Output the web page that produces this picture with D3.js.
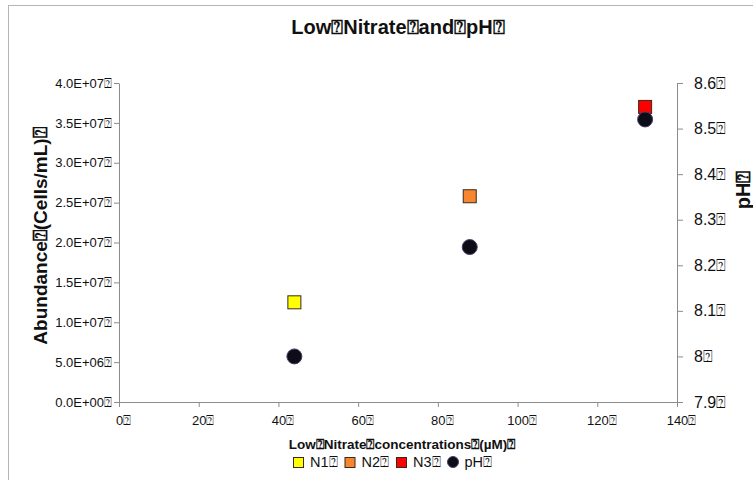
<!DOCTYPE html>
<html>
<head>
<meta charset="utf-8">
<script src="https://cdn.jsdelivr.net/npm/d3@7"></script>
<style>
  body { margin: 0; background: #fff; }
  text { font-family: "Liberation Sans", Arial, sans-serif; fill: #111; }
  .axis path, .axis line { stroke: #8c8c8c; }
  .axis text { font-size: 13px; }
  .axis.right text { font-size: 16px; }
</style>
</head>
<body>
<div class="canvas"></div>
<script>
// missing-glyph mark that shows up in the original export
const Q = "\u2370";

const nitrate = [44, 88, 132];
const abundance = [1.25e7, 2.58e7, 3.7e7];
const seriesNames = ["N1", "N2", "N3"];
const seriesColors = ["#ffff00", "#f7862e", "#ff0000"];
const ph = [8.0, 8.24, 8.52];

const xTicks = [0, 20, 40, 60, 80, 100, 120, 140];
const yTicks = [0, 5e6, 1e7, 1.5e7, 2e7, 2.5e7, 3e7, 3.5e7, 4e7];
const phTicks = [7.9, 8.0, 8.1, 8.2, 8.3, 8.4, 8.5, 8.6];

const W = 753, H = 480;
const margin = { top: 83, right: 76, bottom: 78, left: 119 };

const svg = d3.select(".canvas").append("svg")
  .attr("width", W).attr("height", H);

svg.append("rect")
  .attr("x", 8.5).attr("y", 5.5)
  .attr("width", W).attr("height", H)
  .attr("fill", "#fff").attr("stroke", "#b5b5b5");

const x = d3.scaleLinear().domain([0, 140]).range([margin.left, W - margin.right]);
const y = d3.scaleLinear().domain([0, 4e7]).range([H - margin.bottom, margin.top]);
const y2 = d3.scaleLinear().domain([7.9, 8.6]).range([H - margin.bottom, margin.top]);

const sci = (d) => {
  const [m, e] = d.toExponential(1).split("e");
  const ex = Math.abs(+e);
  return m + "E" + (+e < 0 ? "-" : "+") + (ex < 10 ? "0" : "") + ex + Q;
};

svg.append("g").attr("class", "axis")
  .attr("transform", `translate(${margin.left},0)`)
  .call(d3.axisLeft(y).tickValues(yTicks).tickFormat(sci).tickSize(5).tickSizeOuter(0).tickPadding(2));

svg.append("g").attr("class", "axis right")
  .attr("transform", `translate(${W - margin.right},0)`)
  .call(d3.axisRight(y2).tickValues(phTicks).tickFormat((d) => d3.format("")(+d.toFixed(1)) + Q).tickSize(6).tickSizeOuter(0).tickPadding(11));

svg.append("g").attr("class", "axis bottom")
  .attr("transform", `translate(0,${H - margin.bottom})`)
  .call(d3.axisBottom(x).tickValues(xTicks).tickFormat((d) => d + Q).tickSize(5).tickSizeOuter(0).tickPadding(9));

svg.selectAll(".axis.bottom .tick text").attr("dx", 4);

// titles
svg.append("text")
  .attr("x", 398).attr("y", 34)
  .attr("text-anchor", "middle")
  .style("font-size", "20px").style("font-weight", "bold")
  .text(`Low${Q}Nitrate${Q}and${Q}pH${Q}`);

svg.append("text")
  .attr("transform", "translate(47,236) rotate(-90)")
  .attr("text-anchor", "middle")
  .style("font-size", "19px").style("font-weight", "bold")
  .text(`Abundance${Q}(Cells/mL)${Q}`);

svg.append("text")
  .attr("transform", "translate(750,190) rotate(-90)")
  .attr("text-anchor", "middle")
  .style("font-size", "20px").style("font-weight", "bold")
  .text(`pH${Q}`);

svg.append("text")
  .attr("x", 402).attr("y", 449)
  .attr("text-anchor", "middle")
  .style("font-size", "13.5px").style("font-weight", "bold")
  .text(`Low${Q}Nitrate${Q}concentrations${Q}(\u00b5M)${Q}`);

// markers
svg.selectAll(".sq")
  .data(nitrate)
  .enter()
  .append("rect")
  .attr("class", "sq")
  .attr("x", (d) => x(d) - 6.5)
  .attr("y", (d, i) => y(abundance[i]) - 6.5)
  .attr("width", 13).attr("height", 13)
  .attr("fill", (d, i) => seriesColors[i])
  .attr("stroke", "#3a2a1a").attr("stroke-width", 1);

svg.selectAll(".dot")
  .data(nitrate)
  .enter()
  .append("circle")
  .attr("class", "dot")
  .attr("cx", (d) => x(d))
  .attr("cy", (d, i) => y2(ph[i]))
  .attr("r", 7.5)
  .attr("fill", "#0d0d17")
  .attr("stroke", "#4a3c6a").attr("stroke-width", 1);

// legend
const legend = svg.append("g").attr("transform", "translate(293,467)");
const legendItems = seriesNames.concat(["pH"]);
let lx = 0;
legendItems.forEach((name, i) => {
  if (i < 3) {
    legend.append("rect")
      .attr("x", lx + 0.5).attr("y", -9.5).attr("width", 10).attr("height", 10)
      .attr("fill", seriesColors[i]).attr("stroke", "#3a2a1a");
  } else {
    legend.append("circle")
      .attr("cx", lx + 5.5).attr("cy", -5).attr("r", 5.5)
      .attr("fill", "#0d0d17").attr("stroke", "#4a3c6a");
  }
  legend.append("text")
    .attr("x", lx + 17).attr("y", 0)
    .style("font-size", "14.5px")
    .text(name + Q);
  lx += 51.5;
});
</script>
</body>
</html>
